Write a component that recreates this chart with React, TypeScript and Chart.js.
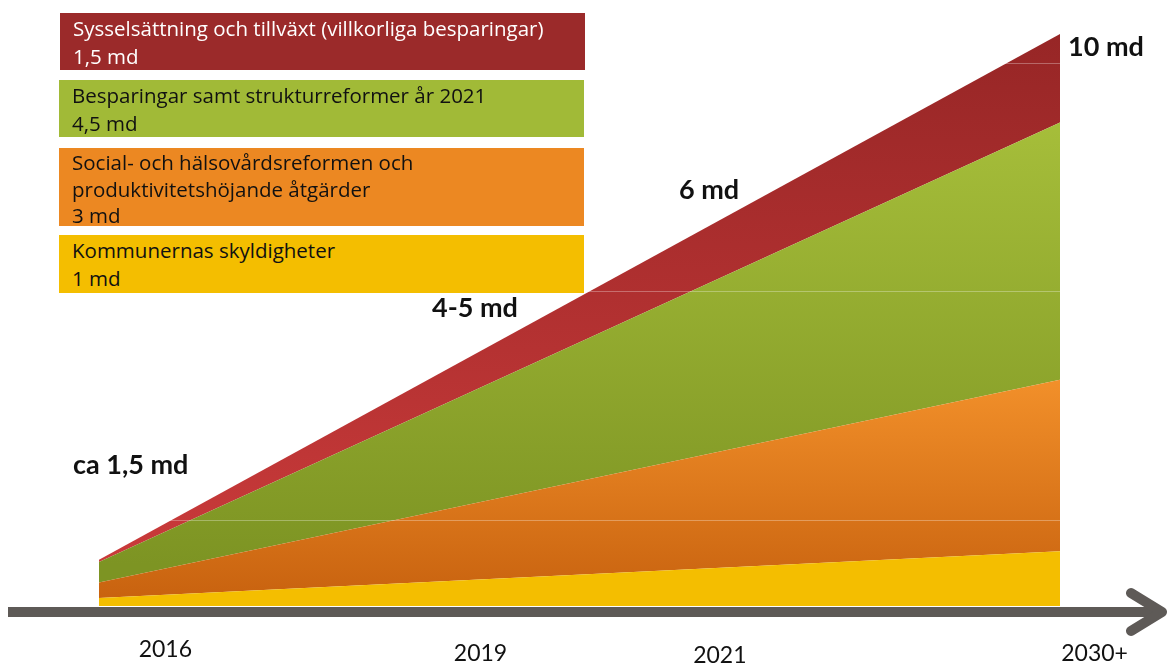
import React, { useEffect, useRef } from 'react';
import { Chart, registerables } from 'chart.js';

Chart.register(...registerables);

// ---- data ----
const xPoints = [0, 1]; // start (2016) and end (2030+) of the time span
const kommunerVals = [0.14, 0.96];
const socialVals = [0.27, 3.0];
const besparingVals = [0.36, 4.5];
const sysselVals = [0.04, 1.55];

const seriesNames = [
  'Kommunernas skyldigheter',
  'Social- och hälsovårdsreformen och\nproduktivitetshöjande åtgärder',
  'Besparingar samt strukturreformer år 2021',
  'Sysselsättning och tillväxt (villkorliga besparingar)',
];
const seriesAmounts = ['1 md', '3 md', '4,5 md', '1,5 md'];

const xTickLabels = ['2016', '2019', '2021', '2030+'];
const xTickPositions = [0.069, 0.397, 0.646, 1.036];

const gridValues = [1.5, 5.5, 9.5];

const calloutTexts = ['ca 1,5 md', '4-5 md', '6 md', '10 md'];

// ---- styles / layout ----
const W = 1168;
const H = 664;
const FONT = 'Lato, "Open Sans", sans-serif';
const LEGEND_FONT = '"Open Sans", Lato, sans-serif';
const boxColors = ['#f4be00', '#ec8822', '#a1ba37', '#9b2a2a'];
const boxTextColors = ['#111', '#111', '#111', '#fff'];
const boxRects = [
  { left: 59, top: 235, width: 525, height: 58 },
  { left: 59, top: 148, width: 525, height: 78 },
  { left: 59, top: 80, width: 525, height: 57 },
  { left: 60, top: 13, width: 525, height: 57 },
];
const calloutPos = [
  { x: 73, y: 465 },
  { x: 432, y: 308 },
  { x: 679, y: 190 },
  { x: 1068, y: 47 },
];
const xTickNudge = [-4, 0, 2, 0];

const gradStops: [number, string][][] = [
  [[0, '#f4be00'], [1, '#f4be00']],
  [[0.62, '#f2902a'], [0.99, '#c8620f']],
  [[0.19, '#a6be3a'], [0.93, '#7d9423']],
  [[0.05, '#972626'], [0.92, '#c93a3a']],
];

const makeGrad = (stops: [number, string][]) => (ctx: any) => {
  const chart = ctx.chart;
  const area = chart.chartArea;
  if (!area) return stops[0][1];
  const g = chart.ctx.createLinearGradient(0, area.top, 0, area.bottom);
  stops.forEach(([o, c]) => g.addColorStop(o, c));
  return g;
};

const decorPlugin = {
  id: 'decor',
  afterDraw(chart: any) {
    const { ctx, chartArea, scales } = chart;
    ctx.save();
    // axis arrow
    const ay = chartArea.bottom + 6;
    ctx.strokeStyle = '#5e5a57';
    ctx.lineWidth = 10;
    ctx.lineCap = 'butt';
    ctx.beginPath();
    ctx.moveTo(8, ay);
    ctx.lineTo(chart.width - 8, ay);
    ctx.stroke();
    ctx.lineCap = 'round';
    ctx.lineJoin = 'round';
    ctx.beginPath();
    ctx.moveTo(chart.width - 37, ay - 19);
    ctx.lineTo(chart.width - 6, ay);
    ctx.lineTo(chart.width - 37, ay + 19);
    ctx.stroke();

    // x tick labels
    ctx.fillStyle = '#111';
    ctx.font = `23px ${FONT}`;
    ctx.textAlign = 'center';
    ctx.textBaseline = 'middle';
    xTickLabels.forEach((t, i) => {
      const px = scales.x.getPixelForValue(xTickPositions[i]);
      ctx.fillText(t, px, chartArea.bottom + 48 + xTickNudge[i]);
    });

    // callouts
    ctx.font = `bold 27px ${FONT}`;
    ctx.textAlign = 'left';
    calloutTexts.forEach((t, i) => {
      ctx.fillText(t, calloutPos[i].x, calloutPos[i].y);
    });
    ctx.restore();
  },
};

export default function App() {
  const ref = useRef<HTMLCanvasElement>(null);

  useEffect(() => {
    if (!ref.current) return;
    const vals = [kommunerVals, socialVals, besparingVals, sysselVals];
    const chart = new Chart(ref.current, {
      type: 'line',
      data: {
        datasets: vals.map((v, i) => ({
          label: seriesNames[i],
          data: xPoints.map((x, j) => ({ x, y: v[j] })),
          backgroundColor: makeGrad(gradStops[i]),
          borderWidth: 0,
          pointRadius: 0,
          fill: i === 0 ? 'origin' : '-1',
          tension: 0,
        })),
      },
      options: {
        animation: false,
        responsive: false,
        layout: { padding: { left: 99, right: 108, top: 6, bottom: 58 } },
        plugins: { legend: { display: false }, tooltip: { enabled: false } },
        scales: {
          x: { type: 'linear', min: 0, max: 1, display: false },
          y: {
            stacked: true,
            min: 0,
            max: 10.5,
            z: 1,
            afterBuildTicks: (s: any) => {
              s.ticks = gridValues.map((v) => ({ value: v }));
            },
            ticks: { display: false },
            grid: { color: 'rgba(255,255,255,0.3)', lineWidth: 1, drawTicks: false, z: 1 },
            border: { display: false },
          },
        },
      },
      plugins: [decorPlugin],
    });
    return () => chart.destroy();
  }, []);

  return (
    <div style={{ position: 'absolute', left: 0, top: 0, width: W, height: H, background: '#fff' }}>
      <canvas ref={ref} width={W} height={H} style={{ position: 'absolute', left: 0, top: 0 }} />
      {boxRects.map((r, i) => (
        <div
          key={i}
          style={{
            position: 'absolute',
            left: r.left,
            top: r.top,
            width: r.width,
            height: r.height,
            background: boxColors[i],
            color: boxTextColors[i],
            fontFamily: LEGEND_FONT,
            fontSize: 20.5,
            lineHeight: i === 1 ? '26.5px' : '28px',
            paddingLeft: 13,
            paddingTop: 1,
            boxSizing: 'border-box',
            whiteSpace: 'pre-line',
          }}
        >
          {seriesNames[i] + '\n' + seriesAmounts[i]}
        </div>
      ))}
    </div>
  );
}
